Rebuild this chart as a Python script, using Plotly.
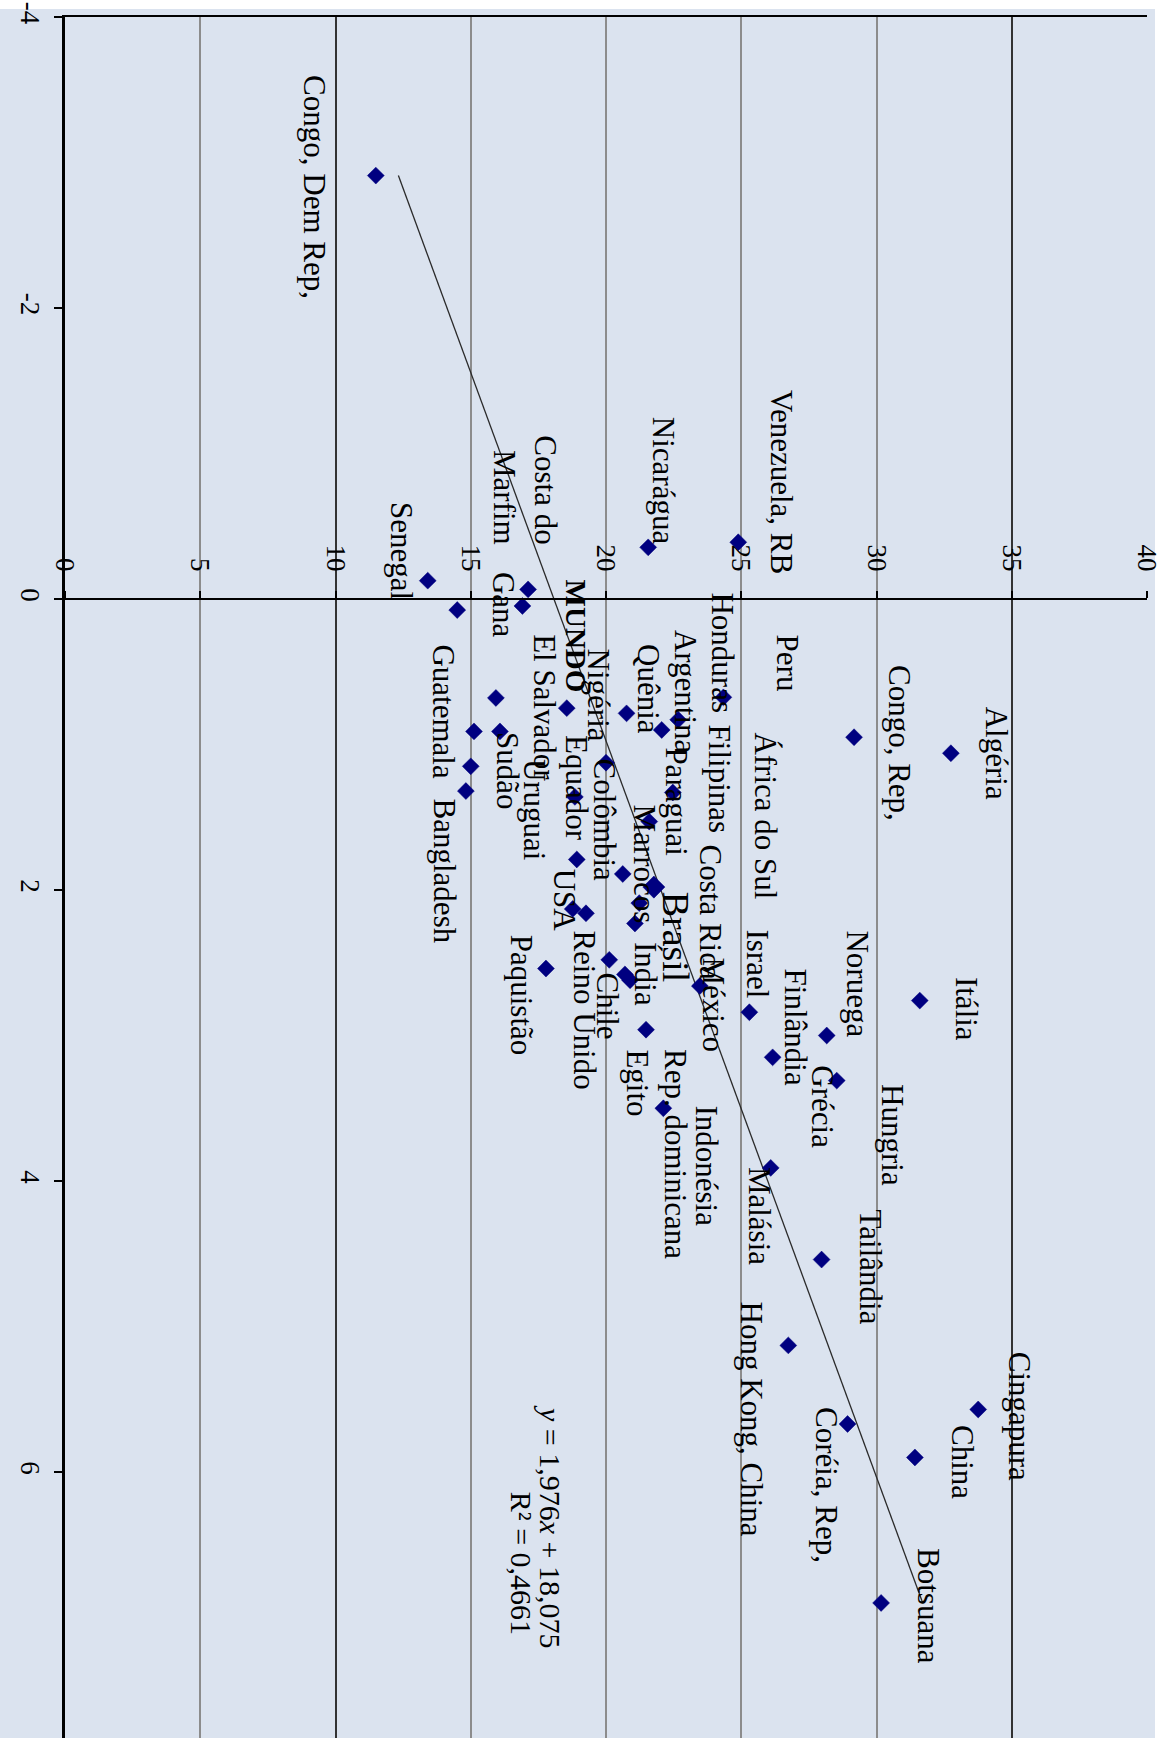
import plotly.graph_objects as go

# ---------------- data ----------------
paises = [
    "Congo, Dem Rep,", "Venezuela, RB", "Nicarágua", "Senegal", "Costa do<br>Marfim",
    "Gana", "Guatemala", "Honduras", "Argentina", "Quênia", "Colômbia", "MUNDO",
    "Peru", "El Salvador", "Sudão", "Uruguai", "Bangladesh", "Nigéria", "Paraguai",
    "Equador", "Filipinas", "USA", "Marrocos", "Brasil", "Hungria", "Índia",
    "África do Sul", "Reino Unido", "Paquistão", "Costa Rica", "Chile", "Indonésia",
    "México", "Israel", "Noruega", "Finlândia", "Grécia", "Egito", "Rep. dominicana",
    "Malásia", "Itália", "Congo, Rep,", "Algéria", "Tailândia", "Hong Kong, China",
    "Cingapura", "Coréia, Rep,", "China", "Botsuana",
]
# growth (vertical in the rotated picture)
crescimento = [
    -2.91, -0.39, -0.355, -0.126, -0.066,
    0.048, 0.076, 0.676, 0.83, 0.90, 0.786, 0.75,
    0.68, 0.91, 0.91, 1.15, 1.32, 1.125, 1.33,
    1.36, 1.53, 1.79, 1.89, 1.98, 2.09, 2.23,
    2.13, 2.16, 2.54, 2.48, 2.58, 2.62,
    2.66, 2.84, 3.00, 3.15, 3.31, 2.96, 3.50,
    3.91, 2.76, 0.95, 1.06, 4.54, 5.13,
    5.57, 5.67, 5.90, 6.90,
]
# investment (horizontal in the rotated picture)
investimento = [
    11.49, 24.89, 21.56, 13.41, 17.12,
    16.91, 14.50, 24.34, 22.67, 22.06, 20.76, 18.55,
    15.93, 15.12, 16.08, 15.00, 14.82, 20.00, 22.47,
    18.85, 21.60, 18.92, 20.62, 21.77, 21.23, 21.07,
    18.77, 19.26, 17.78, 20.12, 20.70, 20.89,
    23.47, 25.30, 28.16, 26.16, 28.53, 21.48, 22.12,
    26.09, 31.60, 29.17, 32.75, 27.97, 26.74,
    33.76, 28.93, 31.42, 30.17,
]

tick_inv = [0, 5, 10, 15, 20, 25, 30, 35, 40]
tick_cresc = [-4, -2, 0, 2, 4, 6]
tick_cresc_text = ["-4", "-2", "0", "2", "4", "6"]

coef_a = 1.976
coef_b = 18.075
eq_text = "<i>y</i> = 1,976<i>x</i> + 18,075"
r2_text = "R² = 0,4661"

# ---------------- label placement (layout, in axis units: investment, growth) ----------------
label_pos = {
    "Congo, Dem Rep,": (9.24, -3.615), "Venezuela, RB": (26.51, -1.45), "Nicarágua": (22.11, -1.265),
    "Costa do<br>Marfim": (17.01, -1.141), "Senegal": (12.46, -0.68), "Gana": (16.19, -0.2),
    "Guatemala": (14.01, 0.302), "Bangladesh": (14.01, 1.361), "MUNDO": (18.89, -0.144),
    "El Salvador": (17.74, 0.227), "Uruguai": (17.38, 1.086), "Sudão": (16.34, 0.90),
    "Nigéria": (19.74, 0.33), "Equador": (18.93, 0.921), "Colômbia": (19.96, 1.086),
    "USA": (18.48, 1.842), "Reino Unido": (19.19, 2.261), "Paquistão": (16.89, 2.296),
    "Quênia": (21.59, 0.296), "Argentina": (22.92, 0.199), "Paraguai": (22.59, 1.003),
    "Honduras": (24.29, -0.062), "Filipinas": (24.21, 0.852), "Costa Rica": (23.88, 1.677),
    "México": (23.96, 2.447), "Marrocos": (21.44, 1.402), "Índia": (21.48, 2.344),
    "Chile": (20.04, 2.55), "Egito": (21.15, 3.079), "Brasil": (22.62, 2.0),
    "Rep. dominicana": (22.55, 3.079), "Indonésia": (23.70, 3.464), "Peru": (26.69, 0.234),
    "África do Sul": (25.88, 0.90), "Israel": (25.62, 2.254), "Congo, Rep,": (30.87, 0.44),
    "Noruega": (29.28, 2.261), "Finlândia": (27.02, 2.529), "Itália": (33.31, 2.584),
    "Algéria": (34.45, 0.729), "Grécia": (27.99, 3.189), "Hungria": (30.61, 3.32),
    "Malásia": (25.66, 3.89), "Tailândia": (29.76, 4.179), "Hong Kong, China": (25.36, 4.818),
    "Coréia, Rep,": (28.17, 5.54), "China": (33.16, 5.663), "Cingapura": (35.30, 5.162),
    "Botsuana": (31.94, 6.509),
}
eq_pos = (17.97, 5.526)
r2_pos = (16.89, 6.124)

FONT = "Liberation Serif, Times New Roman, serif"
BG = "#DBE3EF"

W, H = 1169, 1738
ML, MR, MT, MB = 65, 22, 17, 0
plot_h = H - MT - MB
px_per_unit = 145.5
y_bottom = tick_cresc[0] + plot_h / px_per_unit
zero_pos = (H - MB - (MT + (0 - tick_cresc[0]) * px_per_unit)) / plot_h

fig = go.Figure()

# trend line (from the printed equation, over the data range)
xs = [min(crescimento), max(crescimento)]
fig.add_trace(go.Scatter(
    x=[coef_a * v + coef_b for v in xs], y=xs, mode="lines",
    line=dict(color="#2a2a2a", width=1.3), hoverinfo="skip", showlegend=False,
))

sizes = [17 if p == "Brasil" else 13 for p in paises]
fig.add_trace(go.Scatter(
    x=investimento, y=crescimento, mode="markers", text=paises,
    marker=dict(symbol="diamond", size=sizes, color="#000080", opacity=1,
                line=dict(width=0.5, color="#000080")),
    showlegend=False,
))

annotations = []
for p in paises:
    lx, ly = label_pos[p]
    size = 31
    txt = p
    if p == "MUNDO":
        size, txt = 29, "<b>MUNDO</b>"
    elif p == "Brasil":
        size = 38
    annotations.append(dict(
        x=lx, y=ly, xref="x", yref="y", text=txt, showarrow=False, textangle=90,
        xanchor="center", yanchor="top", align="right",
        font=dict(family=FONT, size=size, color="black"),
    ))
for txt, (lx, ly) in ((eq_text, eq_pos), (r2_text, r2_pos)):
    annotations.append(dict(
        x=lx, y=ly, xref="x", yref="y", text=txt, showarrow=False, textangle=90,
        xanchor="center", yanchor="top", font=dict(family=FONT, size=30, color="black"),
    ))

fig.update_layout(
    width=W, height=H,
    margin=dict(l=ML, r=MR, t=MT, b=MB, pad=0, autoexpand=False),
    paper_bgcolor="white", plot_bgcolor="rgba(0,0,0,0)",
    annotations=annotations,
    shapes=[dict(type="rect", xref="paper", yref="paper",
                 x0=-ML / (W - ML - MR), x1=(1155 - ML) / (W - ML - MR),
                 y0=-0.01, y1=(H - 9 - MB) / plot_h,
                 fillcolor=BG, line=dict(width=0), layer="below")],
    xaxis=dict(
        range=[tick_inv[0], tick_inv[-1]], anchor="free", position=zero_pos, side="top",
        tickvals=tick_inv, tickangle=90, ticks="outside", ticklen=7, tickcolor="black",
        tickwidth=1.5, tickfont=dict(family=FONT, size=27, color="black"),
        showline=True, linecolor="black", linewidth=2,
        showgrid=True, gridcolor="#8c8c8c", gridwidth=2, zeroline=False,
        ticklabelstandoff=10, automargin=False,
    ),
    xaxis2=dict(
        range=[tick_inv[0], tick_inv[-1]], overlaying="x", side="top", anchor="y",
        tickvals=[10, 35], showticklabels=False, ticks="",
        showline=True, linecolor="black", linewidth=2,
        showgrid=True, gridcolor="#333333", gridwidth=2, zeroline=False,
        automargin=False,
    ),
    yaxis=dict(
        range=[y_bottom, tick_cresc[0]], tickvals=tick_cresc, ticktext=tick_cresc_text,
        tickangle=90, ticks="outside", ticklen=8, tickcolor="black", tickwidth=1.5,
        tickfont=dict(family=FONT, size=27, color="black"),
        showline=True, linecolor="black", linewidth=2.5,
        showgrid=False, zeroline=False, ticklabelstandoff=1,
        ticklabeloverflow="allow", automargin=False,
    ),
)
# empty trace so the overlaid top axis (border + darker grid lines) is drawn
fig.add_trace(go.Scatter(x=[None], y=[None], xaxis="x2", yaxis="y", showlegend=False))

fig.write_html(
    "out.html",
    config={"displayModeBar": False},
    post_script="document.body.style.margin='0px';document.body.style.overflow='hidden';",
)
